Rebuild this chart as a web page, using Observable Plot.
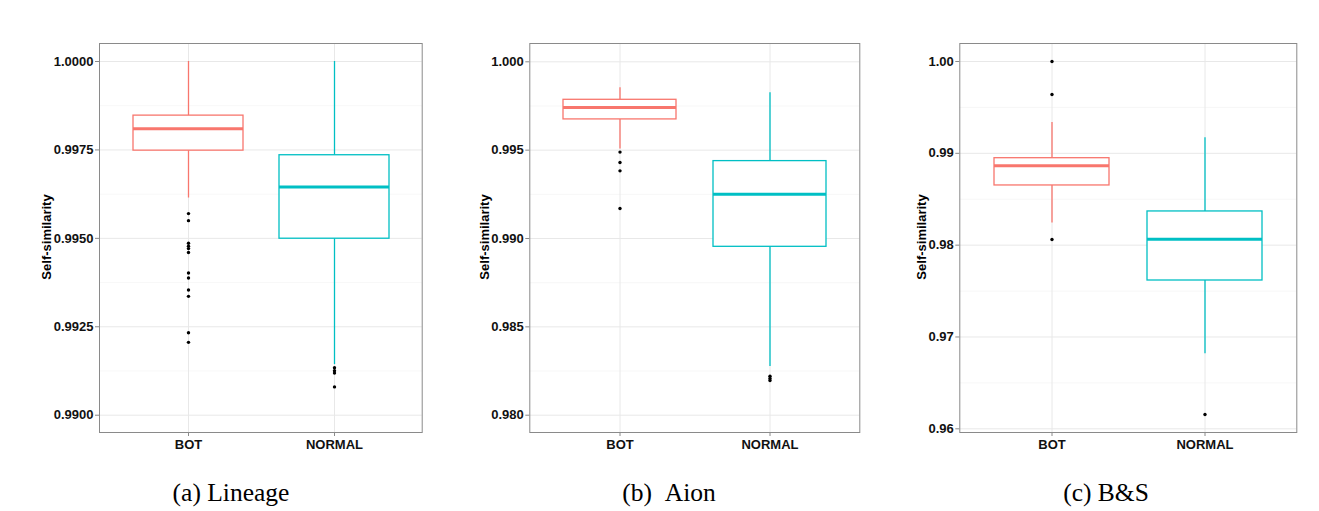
<!DOCTYPE html>
<html>
<head>
<meta charset="utf-8">
<script src="https://cdn.jsdelivr.net/npm/d3@7"></script>
<script src="https://cdn.jsdelivr.net/npm/@observablehq/plot@0.6"></script>
<style>
  html, body { margin: 0; padding: 0; background: #fff; }
  #root { position: relative; width: 1319px; height: 511px; overflow: hidden; background: #fff; }
  .panel { position: absolute; top: 0; }
  .ylab { position: absolute; font-family: "Liberation Sans", Arial, sans-serif; font-weight: bold; font-size: 13px; color: #000;
          transform: translate(-50%, -50%) rotate(-90deg); white-space: nowrap; }
  .cap { position: absolute; font-family: "Liberation Serif", "Times New Roman", serif; font-size: 25.5px; color: #000;
         transform: translate(-50%, -50%); white-space: nowrap; }
</style>
</head>
<body>
<div id="root"></div>
<script>
// ---- Data ----
const groups = ["BOT", "NORMAL"];
const groupColors = ["#F8766D", "#00BFC4"];

// (a) Lineage
const lineageLow  = [0.99614, 0.99143];
const lineageQ1   = [0.99748, 0.99499];
const lineageMed  = [0.99810, 0.99645];
const lineageQ3   = [0.99847, 0.99735];
const lineageHigh = [1.00000, 1.00000];
const lineageOutBot    = [0.99570, 0.99550, 0.99486, 0.99478, 0.99471, 0.99460, 0.99402, 0.99388, 0.99354, 0.99336, 0.99233, 0.99206];
const lineageOutNormal = [0.99134, 0.99126, 0.99119, 0.99080];
const lineageTicks = [0.9900, 0.9925, 0.9950, 0.9975, 1.0000];
const lineageMinor = [0.99125, 0.99375, 0.99625, 0.99875];

// (b) Aion
const aionLow  = [0.99506, 0.98276];
const aionQ1   = [0.99674, 0.98953];
const aionMed  = [0.99742, 0.99251];
const aionQ3   = [0.99785, 0.99438];
const aionHigh = [0.99853, 0.99825];
const aionOutBot    = [0.99489, 0.99430, 0.99383, 0.99170];
const aionOutNormal = [0.98221, 0.98208, 0.98196];
const aionTicks = [0.980, 0.985, 0.990, 0.995, 1.000];
const aionMinor = [0.9825, 0.9875, 0.9925, 0.9975];

// (c) B&S
const bsLow  = [0.98240, 0.96817];
const bsQ1   = [0.98650, 0.97615];
const bsMed  = [0.98864, 0.98065];
const bsQ3   = [0.98947, 0.98367];
const bsHigh = [0.99336, 0.99169];
const bsOutBot    = [1.00000, 0.99641, 0.98062];
const bsOutNormal = [0.96156];
const bsTicks = [0.96, 0.97, 0.98, 0.99, 1.00];
const bsMinor = [0.965, 0.975, 0.985, 0.995];

const panels = [
  {low: lineageLow, q1: lineageQ1, med: lineageMed, q3: lineageQ3, high: lineageHigh,
   outBot: lineageOutBot, outNormal: lineageOutNormal, ticks: lineageTicks, minor: lineageMinor,
   fmt: ".4f", domain: [0.989511, 1.000509], left: 0, width: 430, mL: 99, mR: 8.3, labX: 46, capX: 231,
   caption: "(a) Lineage"},
  {low: aionLow, q1: aionQ1, med: aionMed, q3: aionQ3, high: aionHigh,
   outBot: aionOutBot, outNormal: aionOutNormal, ticks: aionTicks, minor: aionMinor,
   fmt: ".3f", domain: [0.979021, 1.001036], left: 440, width: 430, mL: 89.3, mR: 10.7, labX: 483.5, capX: 669,
   caption: "(b)\u2002Aion"},
  {low: bsLow, q1: bsQ1, med: bsMed, q3: bsQ3, high: bsHigh,
   outBot: bsOutBot, outNormal: bsOutNormal, ticks: bsTicks, minor: bsMinor,
   fmt: ".2f", domain: [0.959597, 1.00196], left: 880, width: 430, mL: 79.3, mR: 13.7, labX: 921, capX: 1106,
   caption: "(c) B&S"}
];

const root = document.getElementById("root");

for (const p of panels) {
  const stats = groups.map((g, i) => ({group: g, low: p.low[i], q1: p.q1[i], med: p.med[i], q3: p.q3[i], high: p.high[i]}));
  const outs = [
    ...p.outBot.map(v => ({group: "BOT", v})),
    ...p.outNormal.map(v => ({group: "NORMAL", v}))
  ];
  const chart = Plot.plot({
    width: p.width,
    height: 460,
    marginTop: 43,
    marginBottom: 28,
    marginLeft: p.mL,
    marginRight: p.mR,
    style: {fontFamily: "'Liberation Sans', Arial, sans-serif", fontSize: "13px", fontWeight: "bold", color: "#000", background: "#fff", overflow: "visible"},
    x: {type: "band", domain: groups, paddingInner: 0.25, paddingOuter: 0.225, axis: null},
    y: {domain: p.domain, axis: null},
    color: {domain: groups, range: groupColors},
    marks: [
      Plot.ruleY(p.minor, {stroke: "#F3F3F3", strokeWidth: 0.7}),
      Plot.ruleY(p.ticks, {stroke: "#E8E8E8", strokeWidth: 1}),
      Plot.ruleX(groups, {x: d => d, stroke: "#E8E8E8", strokeWidth: 1}),
      Plot.ruleX(stats, {x: "group", y1: "low", y2: "q1", stroke: "group", strokeWidth: 1.3}),
      Plot.ruleX(stats, {x: "group", y1: "q3", y2: "high", stroke: "group", strokeWidth: 1.3}),
      Plot.barY(stats, {x: "group", y1: "q1", y2: "q3", fill: "white", stroke: "group", strokeWidth: 1.3, inset: 0}),
      Plot.tickY(stats, {x: "group", y: "med", stroke: "group", strokeWidth: 3}),
      Plot.dot(outs, {x: "group", y: "v", r: 1.7, fill: "black", stroke: "none"}),
      Plot.frame({stroke: "#8a8a8a", strokeWidth: 1}),
      Plot.axisY({ticks: p.ticks, tickFormat: d3.format(p.fmt), tickSize: 4, tickPadding: 2, stroke: "#8a8a8a", fill: "#111", label: null}),
      Plot.axisX({tickSize: 4, tickPadding: 3, stroke: "#8a8a8a", fill: "#111", label: null})
    ]
  });
  chart.classList.add("panel");
  chart.style.left = p.left + "px";
  chart.style.top = "0px";
  root.appendChild(chart);

  const lab = document.createElement("div");
  lab.className = "ylab";
  lab.textContent = "Self-similarity";
  lab.style.left = p.labX + "px";
  lab.style.top = "237px";
  root.appendChild(lab);

  const cap = document.createElement("div");
  cap.className = "cap";
  cap.textContent = p.caption;
  cap.style.left = p.capX + "px";
  cap.style.top = "493px";
  root.appendChild(cap);
}
</script>
</body>
</html>
